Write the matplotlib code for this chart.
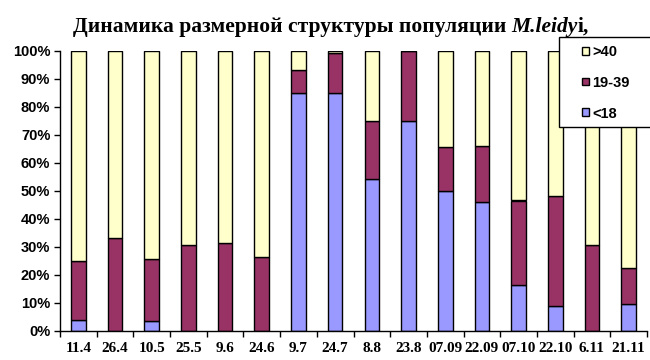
import matplotlib
matplotlib.use("Agg")
import matplotlib.pyplot as plt
from matplotlib.patches import Patch, Rectangle
import numpy as np

categories = ["11.4", "26.4", "10.5", "25.5", "9.6", "24.6", "9.7", "24.7",
              "8.8", "23.8", "07.09", "22.09", "07.10", "22.10", "6.11", "21.11"]
small = [4, 0, 3.5, 0, 0, 0, 85, 85, 54, 75, 50, 46, 16.5, 9, 0, 9.5]       # <18
medium = [21, 33, 22, 30.5, 31.5, 26.5, 8, 14, 21, 25, 15.5, 20, 30, 39, 30.5, 13]  # 19-39
large = [75, 67, 74.5, 69.5, 68.5, 73.5, 7, 1, 25, 0, 34.5, 34, 53.5, 52, 69.5, 77.5]  # >40
labels = ["<18", "19-39", ">40"]
colors = ["#9999FF", "#993366", "#FFFFCC"]

W, H = 650, 360
fig = plt.figure(figsize=(W / 100, H / 100), dpi=100)
ax = fig.add_axes([60 / W, (H - 330.7) / H, 587 / W, 280 / H])

x = np.arange(len(categories))
bw = 0.4
ax.bar(x, small, bw, color=colors[0], edgecolor="black", linewidth=1)
ax.bar(x, medium, bw, bottom=small, color=colors[1], edgecolor="black", linewidth=1)
bot3 = np.array(small) + np.array(medium)
ax.bar(x, large, bw, bottom=bot3, color=colors[2], edgecolor="black", linewidth=1)

ax.set_xlim(-0.5, len(categories) - 0.5)
ax.set_ylim(0, 100)
ax.set_yticks(np.arange(0, 101, 10))
ax.set_yticklabels([f"{v}%" for v in range(0, 101, 10)],
                   fontfamily="Liberation Sans", fontweight="bold", fontsize=10.5)
ax.set_xticks(x)
ax.set_xticklabels(categories, fontfamily="Liberation Serif", fontweight="bold", fontsize=11)
ax.set_xticks(np.arange(-0.5, len(categories) + 0.5, 1), minor=True)
ax.tick_params(axis="x", which="major", length=0, pad=8)
ax.tick_params(axis="x", which="minor", length=4, width=1, direction="out")
ax.tick_params(axis="y", length=4, width=1, direction="out", pad=3)
for s in ["top", "right"]:
    ax.spines[s].set_visible(False)
for s in ["left", "bottom"]:
    ax.spines[s].set_linewidth(1)

# legend frame (extends past the right edge like the reference)
frame = Rectangle((559 / W, (H - 127) / H), 100 / W, 90 / H, transform=fig.transFigure,
                  facecolor="white", edgecolor="black", linewidth=1, zorder=5)
fig.add_artist(frame)
handles = [Patch(facecolor=colors[i], edgecolor="black", linewidth=1) for i in [2, 1, 0]]
leg = fig.legend(handles, [labels[i] for i in [2, 1, 0]],
                 loc="upper left", bbox_to_anchor=(582 / W, (H - 45) / H),
                 frameon=False,
                 prop={"family": "Liberation Sans", "weight": "bold", "size": 10.5},
                 handlelength=0.45, handleheight=0.45, handletextpad=0.25,
                 labelspacing=1.15, borderpad=0, borderaxespad=0)
leg.set_zorder(6)

# Title with mixed styles
parts = [("Динамика размерной структуры популяции ", "normal"),
         ("M.leidy", "italic"), ("i,", "normal")]
renderer = fig.canvas.get_renderer()
texts = []
for t, st in parts:
    tx = fig.text(0, (H - 32) / H, t, fontfamily="Liberation Serif", fontweight="bold",
                  fontstyle=st, fontsize=15.5, ha="left", va="baseline")
    texts.append(tx)
widths = [tx.get_window_extent(renderer).width for tx in texts]
total = sum(widths)
xpos = 331 - total / 2
for tx, w in zip(texts, widths):
    tx.set_x(xpos / W)
    xpos += w

fig.savefig("out.png", dpi=100)
